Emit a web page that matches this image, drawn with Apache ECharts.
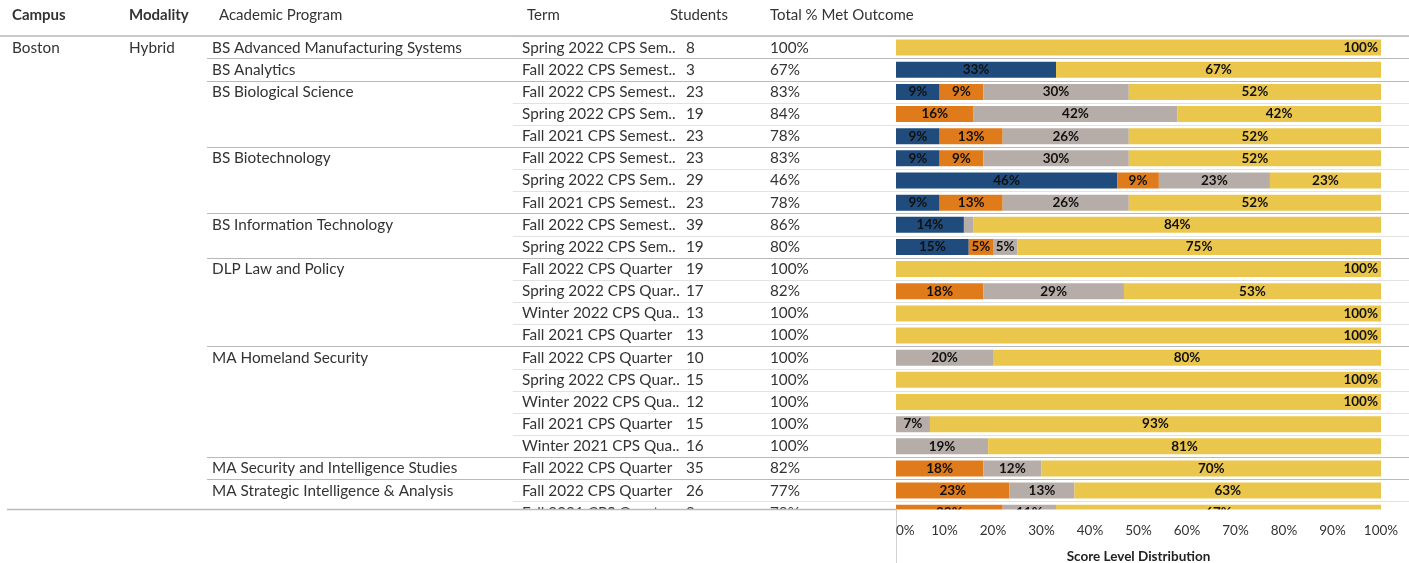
<!DOCTYPE html>
<html>
<head>
<meta charset="utf-8">
<script src="https://cdn.jsdelivr.net/npm/echarts@6/dist/echarts.min.js"></script>
<style>
  html, body { margin: 0; padding: 0; background: #fff; }
  #chart { width: 1409px; height: 563px; }
</style>
</head>
<body>
<div id="chart"></div>
<script>
// table columns, one entry per row
const campuses = ['Boston', '', '', '', '', '', '', '', '', '', '', '', '', '', '', '', '', '', '', '', '', ''];
const modalities = ['Hybrid', '', '', '', '', '', '', '', '', '', '', '', '', '', '', '', '', '', '', '', '', ''];
const programs = [
  'BS Advanced Manufacturing Systems', 'BS Analytics', 'BS Biological Science', '', '',
  'BS Biotechnology', '', '', 'BS Information Technology', '',
  'DLP Law and Policy', '', '', '', 'MA Homeland Security', '', '', '', '',
  'MA Security and Intelligence Studies', 'MA Strategic Intelligence & Analysis', ''
];
const terms = [
  'Spring 2022 CPS Sem..', 'Fall 2022 CPS Semest..', 'Fall 2022 CPS Semest..', 'Spring 2022 CPS Sem..',
  'Fall 2021 CPS Semest..', 'Fall 2022 CPS Semest..', 'Spring 2022 CPS Sem..', 'Fall 2021 CPS Semest..',
  'Fall 2022 CPS Semest..', 'Spring 2022 CPS Sem..', 'Fall 2022 CPS Quarter', 'Spring 2022 CPS Quar..',
  'Winter 2022 CPS Qua..', 'Fall 2021 CPS Quarter', 'Fall 2022 CPS Quarter', 'Spring 2022 CPS Quar..',
  'Winter 2022 CPS Qua..', 'Fall 2021 CPS Quarter', 'Winter 2021 CPS Qua..', 'Fall 2022 CPS Quarter',
  'Fall 2022 CPS Quarter', 'Fall 2021 CPS Quarter'
];
const students = [8, 3, 23, 19, 23, 23, 29, 23, 39, 19, 19, 17, 13, 13, 10, 15, 12, 15, 16, 35, 26, 9];
const metOutcome = [100, 67, 83, 84, 78, 83, 46, 78, 86, 80, 100, 82, 100, 100, 100, 100, 100, 100, 100, 82, 77, 78];

// score level distribution (%)
const level1 = [0, 33, 9, 0, 9, 9, 45.6, 9, 14, 15, 0, 0, 0, 0, 0, 0, 0, 0, 0, 0, 0, 0];
const level2 = [0, 0, 9, 16, 13, 9, 8.6, 13, 0, 5, 0, 18, 0, 0, 0, 0, 0, 0, 0, 18, 23.4, 22];
const level3 = [0, 0, 30, 42, 26, 30, 22.9, 26, 2, 5, 0, 29, 0, 0, 20, 0, 0, 7, 19, 12, 13.4, 11];
const level4 = [100, 67, 52, 42, 52, 52, 22.9, 52, 84, 75, 100, 53, 100, 100, 80, 100, 100, 93, 81, 70, 63.2, 67];

const xTicks = [0, 10, 20, 30, 40, 50, 60, 70, 80, 90, 100];
// first row of each program; the last program starts at row 20
const groupStarts = [0, 1, 2, 5, 8, 10, 14, 19, 20];

const COLORS = ['#1f4b7d', '#e07b1c', '#b6ada8', '#ebc64c'];
const FONT = 'Lato';
const ROW_H = 22.15;
const TOP = 36.5;
const BAR_LEFT = 896;

const rowIds = terms.map((t, i) => String(i));
const gridHeight = ROW_H * rowIds.length;
// separator panes stop at the last boundary that is visible in the view
const lightRows = rowIds.slice(0, rowIds.length - 1);
const groupRows = rowIds.slice(0, groupStarts[groupStarts.length - 1]);

const chart = echarts.init(document.getElementById('chart'));

const tableAxis = (colX, labels) => ({
  type: 'category',
  gridIndex: 0,
  data: rowIds,
  inverse: true,
  position: 'left',
  offset: BAR_LEFT - colX,
  axisLine: { show: false },
  axisTick: { show: false },
  splitLine: { show: false },
  axisLabel: {
    interval: 0,
    align: 'left',
    margin: 0,
    fontFamily: FONT,
    fontSize: 15.3,
    color: '#333',
    formatter: (v) => String(labels[Number(v)]),
  },
});

const lineAxis = (gridIndex, rows, color, width, interval) => ({
  type: 'category',
  gridIndex,
  data: rows,
  inverse: true,
  axisLine: { show: false },
  axisTick: { show: false },
  axisLabel: { show: false },
  splitLine: { show: true, interval, lineStyle: { color, width } },
});

const makeSeries = (name, values, idx) => ({
  name,
  type: 'bar',
  stack: 'total',
  xAxisIndex: 0,
  yAxisIndex: 0,
  barWidth: 16,
  z: 3,
  itemStyle: { color: COLORS[idx] },
  data: values.map(v => ({
    value: v,
    label: {
      show: v >= 5,
      position: v === 100 ? 'insideRight' : 'inside',
      distance: 3,
    },
  })),
  label: {
    formatter: (p) => Math.round(p.value) + '%',
    fontFamily: FONT,
    fontSize: 13.5,
    fontWeight: 'bold',
    color: '#111',
  },
});

const header = (x, text, bold) => ({
  type: 'text',
  left: x,
  top: 8,
  z: 50,
  style: {
    text,
    fontFamily: FONT,
    fontSize: 15,
    fontWeight: bold ? 'bold' : 'normal',
    fill: '#333',
  },
});

chart.setOption({
  animation: false,
  backgroundColor: '#fff',
  grid: [
    { left: BAR_LEFT, right: 28, top: TOP, height: gridHeight, outerBoundsMode: 'none' },
    { left: 513, right: 0, top: TOP, height: ROW_H * lightRows.length, outerBoundsMode: 'none' },
    { left: 207, right: 0, top: TOP, height: ROW_H * groupRows.length, outerBoundsMode: 'none' },
  ],
  xAxis: [
    {
      type: 'value',
      gridIndex: 0,
      min: 0,
      max: 100,
      interval: 10,
      z: 60,
      axisLine: { show: false },
      axisTick: { show: false },
      splitLine: { show: false },
      axisLabel: {
        formatter: '{value}%',
        margin: -0.5,
        fontFamily: FONT,
        fontSize: 13.5,
        color: '#333',
        alignMinLabel: 'left',
        customValues: xTicks,
      },
      name: 'Score Level Distribution',
      nameLocation: 'middle',
      nameGap: 26,
      nameTextStyle: { fontFamily: FONT, fontSize: 13.5, fontWeight: 'bold', color: '#222' },
    },
    { type: 'value', gridIndex: 1, min: 0, max: 1, show: false },
    { type: 'value', gridIndex: 2, min: 0, max: 1, show: false },
  ],
  yAxis: [
    {
      type: 'category',
      gridIndex: 0,
      data: rowIds,
      inverse: true,
      axisLine: { show: false },
      axisTick: { show: false },
      axisLabel: { show: false },
      splitLine: { show: false },
    },
    tableAxis(12, campuses),
    tableAxis(129, modalities),
    tableAxis(212, programs),
    tableAxis(522, terms),
    tableAxis(686, students),
    tableAxis(770, metOutcome.map(v => v + '%')),
    lineAxis(1, lightRows, '#e2e2e2', 1, 0),
    lineAxis(2, groupRows, '#b9b9b9', 1.2, (i) => i > 0 && groupStarts.indexOf(i) > 0),
  ],
  series: [
    makeSeries('Level 1', level1, 0),
    makeSeries('Level 2', level2, 1),
    makeSeries('Level 3', level3, 2),
    makeSeries('Level 4', level4, 3),
  ],
  graphic: [
    // cut the view at the bottom of the scrolling pane
    { type: 'rect', shape: { x: 0, y: 509.5, width: 1409, height: 14.5 }, style: { fill: '#fff' }, z: 40 },
    { type: 'line', shape: { x1: 0, y1: 36, x2: 1409, y2: 36 }, style: { stroke: '#b8b8b8', lineWidth: 1.5 }, z: 45 },
    { type: 'line', shape: { x1: 7, y1: 509.5, x2: 897, y2: 509.5 }, style: { stroke: '#bbbbbb', lineWidth: 1.5 }, z: 45 },
    { type: 'line', shape: { x1: 896.5, y1: 509.5, x2: 896.5, y2: 563 }, style: { stroke: '#d0d0d0', lineWidth: 1 }, z: 45 },
    header(12, 'Campus', true),
    header(129, 'Modality', true),
    header(219, 'Academic Program', false),
    header(527, 'Term', false),
    header(670, 'Students', false),
    header(770, 'Total % Met Outcome', false),
  ],
});
</script>
</body>
</html>
